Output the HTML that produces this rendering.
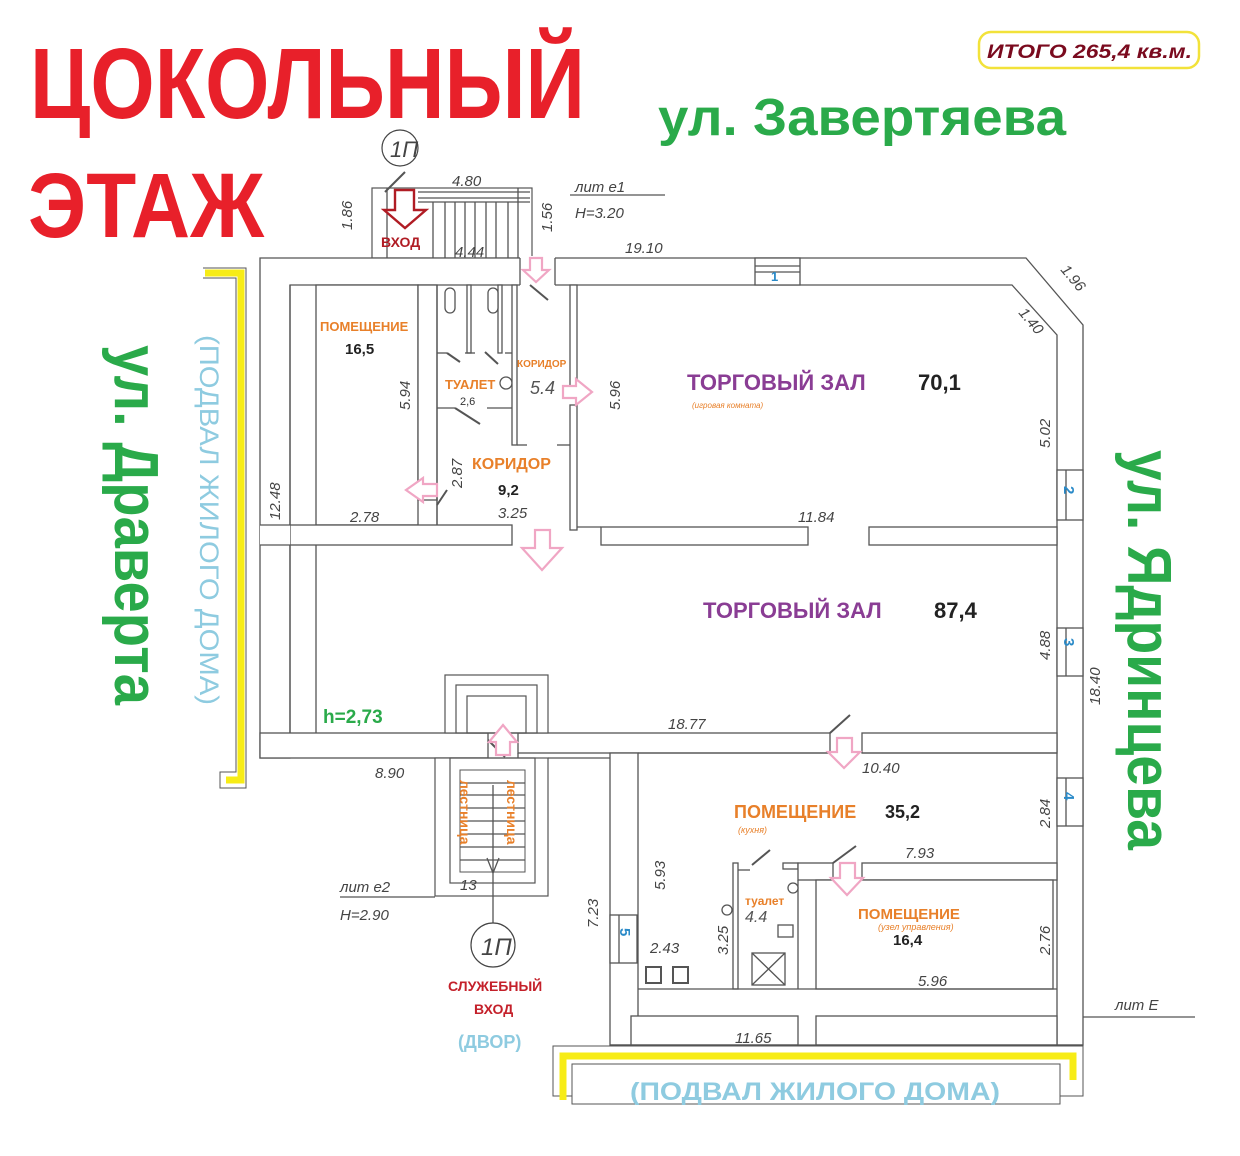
<!DOCTYPE html>
<html><head><meta charset="utf-8"><style>
html,body{margin:0;padding:0;background:#fff;}
svg{display:block;}
text{font-family:"Liberation Sans",sans-serif;}
.d{fill:#444;font-style:italic;font-size:15px;}
.o{fill:#e8802a;font-weight:bold;}
.k{fill:#222;font-weight:bold;}
.p{fill:#8a3d94;font-weight:bold;}
.w{fill:#fff;stroke:#555;stroke-width:1.3;}
.l{stroke:#555;stroke-width:1.3;fill:none;}
.pa{fill:#fff;stroke:#f0a6c4;stroke-width:2.2;}
.door{stroke:#555;stroke-width:2;}
</style></head><body>
<svg width="1240" height="1156" viewBox="0 0 1240 1156" xmlns="http://www.w3.org/2000/svg">
<rect width="1240" height="1156" fill="#fff"/>

<!-- Titles -->
<text x="30" y="118" font-size="100" font-weight="bold" fill="#e8202a" textLength="555" lengthAdjust="spacingAndGlyphs">ЦОКОЛЬНЫЙ</text>
<text x="28" y="237" font-size="92" font-weight="bold" fill="#e8202a" textLength="236" lengthAdjust="spacingAndGlyphs">ЭТАЖ</text>
<text x="658" y="135" font-size="52" font-weight="bold" fill="#2aaa4a" textLength="408" lengthAdjust="spacingAndGlyphs">ул. Завертяева</text>
<rect x="979" y="32" width="220" height="36" rx="12" fill="#fff" stroke="#f2e23a" stroke-width="2.5"/>
<text x="987" y="58" font-size="19" font-weight="bold" font-style="italic" fill="#7a0a1e" textLength="205" lengthAdjust="spacingAndGlyphs">ИТОГО 265,4 кв.м.</text>

<text transform="translate(115,345) rotate(90)" font-size="62" font-weight="bold" fill="#2aaa4a" textLength="360" lengthAdjust="spacingAndGlyphs">ул. Драверта</text>
<text transform="translate(200,335) rotate(90)" font-size="27" fill="#8ecbe0" textLength="370" lengthAdjust="spacingAndGlyphs">(ПОДВАЛ ЖИЛОГО ДОМА)</text>
<text transform="translate(1128,450) rotate(90)" font-size="62" font-weight="bold" fill="#2aaa4a" textLength="400" lengthAdjust="spacingAndGlyphs">ул. Ядринцева</text>

<!-- Yellow brackets -->
<polyline points="203,268 246,268 246,788 220,788 220,772 236,772 236,278 203,278" fill="#fff" stroke="#555" stroke-width="1"/>
<polyline points="205,273 241,273 241,780 226,780" fill="none" stroke="#f7ec16" stroke-width="7"/>
<rect x="553" y="1046" width="530" height="50" fill="#fff" stroke="#555" stroke-width="1"/>
<rect x="572" y="1064" width="488" height="40" fill="#fff" stroke="#555" stroke-width="1"/>
<polyline points="563,1100 563,1056 1073,1056 1073,1080" fill="none" stroke="#f7ec16" stroke-width="7"/>

<!-- Entrance stair top -->
<rect x="372" y="188" width="160" height="70" fill="#fff" stroke="#555" stroke-width="1.2"/>
<line x1="387" y1="188" x2="387" y2="258" class="l"/>
<line x1="418" y1="192" x2="530" y2="192" class="l"/>
<line x1="418" y1="198" x2="530" y2="198" class="l"/>
<line x1="418" y1="202" x2="530" y2="202" class="l"/>
<g class="l"><line x1="433" y1="202" x2="433" y2="258"/><line x1="445" y1="202" x2="445" y2="258"/><line x1="455" y1="202" x2="455" y2="258"/><line x1="465" y1="202" x2="465" y2="258"/><line x1="475" y1="202" x2="475" y2="258"/><line x1="486" y1="202" x2="486" y2="258"/><line x1="496" y1="202" x2="496" y2="258"/><line x1="508" y1="202" x2="508" y2="258"/><line x1="518" y1="188" x2="518" y2="258"/></g>
<line x1="385" y1="192" x2="405" y2="172" class="door"/>
<circle cx="400" cy="148" r="18" fill="#fff" stroke="#444" stroke-width="1.2"/>
<text x="390" y="157" font-size="22" font-style="italic" fill="#444">1П</text>
<polygon points="395,190 414,190 414,210 426,210 405,228 384,210 395,210" fill="#fff" stroke="#b01c24" stroke-width="2.4"/>
<text x="381" y="247" font-size="14" font-weight="bold" fill="#b01c24">ВХОД</text>

<!-- Outer walls -->
<polygon points="260,258 1026,258 1083,325 1083,1045 1057,1045 1057,335 1012,285 290,285 290,758 260,758" class="w"/>
<rect x="520" y="256" width="35" height="32" fill="#fff"/>
<line x1="520" y1="258" x2="520" y2="285" class="l"/><line x1="555" y1="258" x2="555" y2="285" class="l"/>
<line x1="290" y1="285" x2="290" y2="758" class="l"/>
<!-- windows -->
<rect x="755" y="258" width="45" height="27" class="w"/><line x1="755" y1="266" x2="800" y2="266" class="l"/><line x1="755" y1="272" x2="800" y2="272" class="l"/>
<text x="771" y="281" font-size="13" font-weight="bold" fill="#2a8ac8">1</text>
<rect x="1057" y="470" width="26" height="50" class="w"/><line x1="1066" y1="470" x2="1066" y2="520" class="l"/>
<text transform="translate(1064,486) rotate(90)" font-size="15" font-weight="bold" fill="#2a8ac8">2</text>
<rect x="1057" y="628" width="26" height="48" class="w"/><line x1="1066" y1="628" x2="1066" y2="676" class="l"/>
<text transform="translate(1064,638) rotate(90)" font-size="15" font-weight="bold" fill="#2a8ac8">3</text>
<rect x="1057" y="778" width="26" height="48" class="w"/><line x1="1066" y1="778" x2="1066" y2="826" class="l"/>
<text transform="translate(1064,792) rotate(90)" font-size="15" font-weight="bold" fill="#2a8ac8">4</text>

<!-- left room -->
<rect x="316" y="285" width="102" height="240" class="w"/>
<rect x="418" y="285" width="19" height="215" class="w"/>
<!-- toilets -->
<line x1="437" y1="285" x2="437" y2="525" class="l"/>
<rect x="467" y="285" width="4" height="68" class="w"/>
<rect x="498" y="285" width="4" height="68" class="w"/>
<rect x="445" y="288" width="10" height="25" rx="5" class="w"/>
<rect x="488" y="288" width="10" height="25" rx="5" class="w"/>
<line x1="437" y1="353" x2="447" y2="353" class="l"/>
<line x1="465" y1="353" x2="475" y2="353" class="l"/>
<line x1="505" y1="353" x2="517" y2="353" class="l"/>
<line x1="447" y1="353" x2="460" y2="362" class="door"/>
<line x1="485" y1="352" x2="498" y2="364" class="door"/>
<line x1="437" y1="408" x2="455" y2="408" class="l"/>
<line x1="487" y1="408" x2="517" y2="408" class="l"/>
<line x1="455" y1="408" x2="480" y2="424" class="door"/>
<circle cx="506" cy="383" r="6" class="w"/>
<rect x="512" y="285" width="5" height="160" class="w"/>
<line x1="517" y1="445" x2="527" y2="445" class="l"/>
<line x1="557" y1="445" x2="570" y2="445" class="l"/>
<line x1="530" y1="285" x2="548" y2="300" class="door"/>
<rect x="570" y="285" width="7" height="105" class="w"/>
<rect x="570" y="405" width="7" height="125" class="w"/>
<line x1="437" y1="498" x2="437" y2="525" class="l"/>
<line x1="437" y1="505" x2="447" y2="490" class="door"/>

<!-- middle wall -->
<rect x="290" y="525" width="222" height="20" class="w"/>
<rect x="260" y="525" width="30" height="20" fill="#fff"/>
<line x1="260" y1="525" x2="290" y2="525" class="l"/><line x1="260" y1="545" x2="290" y2="545" class="l"/>
<line x1="316" y1="545" x2="316" y2="733" class="l"/>
<rect x="577" y="525" width="0" height="0"/>
<rect x="601" y="527" width="207" height="18" class="w"/>
<rect x="869" y="527" width="188" height="18" class="w"/>
<line x1="577" y1="527" x2="601" y2="527" class="l"/>

<!-- lower wall -->
<rect x="260" y="733" width="228" height="25" class="w"/>
<rect x="518" y="733" width="312" height="20" class="w"/>
<rect x="862" y="733" width="195" height="20" class="w"/>
<line x1="488" y1="740" x2="505" y2="757" class="door"/>
<line x1="830" y1="733" x2="850" y2="715" class="door"/>
<line x1="518" y1="753" x2="518" y2="758" class="l"/>

<!-- upper stair box -->
<rect x="445" y="675" width="103" height="58" fill="#fff" stroke="#555" stroke-width="1.2"/>
<rect x="456" y="685" width="81" height="48" fill="none" stroke="#555" stroke-width="1.2"/>
<rect x="467" y="696" width="59" height="37" fill="none" stroke="#555" stroke-width="1.2"/>
<!-- lower stair -->
<rect x="435" y="758" width="113" height="138" fill="#fff" stroke="#555" stroke-width="1.2"/>
<rect x="450" y="758" width="85" height="125" fill="none" stroke="#555" stroke-width="1.2"/>
<rect x="460" y="770" width="65" height="102" fill="none" stroke="#555" stroke-width="1"/>
<g class="l"><line x1="460" y1="783" x2="525" y2="783"/><line x1="460" y1="795" x2="525" y2="795"/><line x1="460" y1="808" x2="525" y2="808"/><line x1="460" y1="821" x2="525" y2="821"/><line x1="460" y1="834" x2="525" y2="834"/><line x1="460" y1="847" x2="525" y2="847"/><line x1="460" y1="860" x2="525" y2="860"/><line x1="493" y1="785" x2="493" y2="935"/><line x1="487" y1="858" x2="493" y2="873"/><line x1="499" y1="858" x2="493" y2="873"/></g>
<text transform="translate(460,780) rotate(90)" font-size="14" class="o">лестница</text>
<text transform="translate(507,780) rotate(90)" font-size="14" class="o">лестница</text>
<text x="460" y="890" class="d" font-size="17">13</text>
<circle cx="493" cy="945" r="22" fill="#fff" stroke="#444" stroke-width="1.2"/>
<text x="481" y="955" font-size="24" font-style="italic" fill="#444">1П</text>
<line x1="340" y1="897" x2="435" y2="897" class="l"/>
<text x="340" y="892" class="d" font-size="22">лит е2</text>
<text x="340" y="920" class="d" font-size="22">Н=2.90</text>

<!-- lower section -->
<polygon points="548,758 610,758 610,1045 548,1045" fill="none"/>
<rect x="610" y="753" width="28" height="292" class="w"/>
<line x1="548" y1="758" x2="610" y2="758" class="l"/>
<rect x="610" y="915" width="27" height="48" class="w"/><line x1="619" y1="915" x2="619" y2="963" class="l"/>
<text transform="translate(620,928) rotate(90)" font-size="15" font-weight="bold" fill="#2a8ac8">5</text>
<rect x="638" y="753" width="415" height="0" class="l"/>
<line x1="638" y1="753" x2="830" y2="753" class="l"/><line x1="862" y1="753" x2="1057" y2="753" class="l"/>
<rect x="733" y="863" width="5" height="126" class="w"/>
<line x1="738" y1="870" x2="750" y2="870" class="l"/>
<line x1="752" y1="865" x2="770" y2="850" class="door"/>
<rect x="783" y="863" width="15" height="6" class="w"/>
<rect x="798" y="863" width="35" height="17" class="w"/>
<rect x="862" y="863" width="195" height="17" class="w"/>
<line x1="833" y1="863" x2="856" y2="846" class="door"/>
<line x1="798" y1="880" x2="798" y2="989" class="l"/>
<rect x="816" y="880" width="237" height="109" class="w"/>
<circle cx="727" cy="910" r="5" class="w"/>
<circle cx="793" cy="888" r="5" class="w"/>
<rect x="778" y="925" width="15" height="12" class="w"/>
<rect x="752" y="953" width="33" height="32" class="w"/><line x1="752" y1="953" x2="785" y2="985" class="l"/><line x1="785" y1="953" x2="752" y2="985" class="l"/>
<rect x="646" y="967" width="15" height="16" fill="none" stroke="#555" stroke-width="2"/>
<rect x="673" y="967" width="15" height="16" fill="none" stroke="#555" stroke-width="2"/>
<line x1="638" y1="989" x2="1057" y2="989" class="l"/>
<rect x="631" y="1016" width="167" height="29" class="w"/>
<rect x="816" y="1016" width="241" height="29" class="w"/>
<line x1="610" y1="1045" x2="1083" y2="1045" class="l"/>
<line x1="1083" y1="1017" x2="1195" y2="1017" class="l"/>
<text x="1115" y="1010" class="d" font-size="22">лит Е</text>

<!-- lit e1 -->
<line x1="570" y1="195" x2="665" y2="195" class="l"/>
<text x="575" y="192" class="d" font-size="22">лит е1</text>
<text x="575" y="218" class="d" font-size="22">Н=3.20</text>

<!-- dimensions -->
<text x="452" y="186" class="d">4.80</text>
<text x="625" y="253" class="d">19.10</text>
<text x="455" y="257" class="d" font-size="12">4.44</text>
<text transform="translate(352,230) rotate(-90)" class="d">1.86</text>
<text transform="translate(552,232) rotate(-90)" class="d">1.56</text>
<text transform="translate(1060,270) rotate(50)" class="d">1.96</text>
<text transform="translate(1018,313) rotate(50)" class="d">1.40</text>
<text transform="translate(1050,448) rotate(-90)" class="d">5.02</text>
<text transform="translate(620,410) rotate(-90)" class="d">5.96</text>
<text transform="translate(410,410) rotate(-90)" class="d">5.94</text>
<text transform="translate(462,488) rotate(-90)" class="d">2.87</text>
<text x="350" y="522" class="d">2.78</text>
<text x="498" y="518" class="d">3.25</text>
<text x="798" y="522" class="d">11.84</text>
<text transform="translate(280,520) rotate(-90)" class="d" font-size="12">12.48</text>
<text transform="translate(1050,660) rotate(-90)" class="d">4.88</text>
<text transform="translate(1100,705) rotate(-90)" class="d">18.40</text>
<text x="668" y="729" class="d">18.77</text>
<text x="862" y="773" class="d">10.40</text>
<text transform="translate(1050,828) rotate(-90)" class="d">2.84</text>
<text x="905" y="858" class="d">7.93</text>
<text transform="translate(665,890) rotate(-90)" class="d">5.93</text>
<text transform="translate(598,928) rotate(-90)" class="d" font-size="12">7.23</text>
<text transform="translate(728,955) rotate(-90)" class="d">3.25</text>
<text x="650" y="953" class="d">2.43</text>
<text transform="translate(1050,955) rotate(-90)" class="d">2.76</text>
<text x="918" y="986" class="d">5.96</text>
<text x="735" y="1043" class="d" font-size="12">11.65</text>
<text x="375" y="778" class="d" font-size="12">8.90</text>

<!-- pink arrows -->
<polygon points="530,258 542,258 542,270 549,270 536,282 523,270 530,270" class="pa"/>
<polygon points="563,386 576,386 576,379 592,392 576,405 576,398 563,398" class="pa"/>
<polygon points="437,484 423,484 423,478 406,490 423,502 423,496 437,496" class="pa"/>
<polygon points="535,530 550,530 550,548 562,548 542,570 522,548 535,548" class="pa"/>
<polygon points="496,755 510,755 510,742 517,742 503,725 489,742 496,742" class="pa"/>
<polygon points="837,738 852,738 852,752 860,752 844,768 828,752 837,752" class="pa"/>
<polygon points="840,863 855,863 855,878 863,878 847,895 831,878 840,878" class="pa"/>

<!-- room labels -->
<text x="320" y="331" font-size="13" class="o">ПОМЕЩЕНИЕ</text>
<text x="345" y="354" font-size="15" class="k">16,5</text>
<text x="445" y="389" font-size="13" class="o">ТУАЛЕТ</text>
<text x="460" y="405" font-size="11" fill="#333">2,6</text>
<text x="517" y="367" font-size="10" class="o">КОРИДОР</text>
<text x="530" y="394" font-size="18" font-style="italic" fill="#555">5.4</text>
<text x="472" y="469" font-size="16" class="o">КОРИДОР</text>
<text x="498" y="495" font-size="15" class="k">9,2</text>
<text x="687" y="390" font-size="22" class="p">ТОРГОВЫЙ ЗАЛ</text>
<text x="918" y="390" font-size="22" class="k">70,1</text>
<text x="692" y="408" font-size="8" font-style="italic" fill="#e8802a">(игровая комната)</text>
<text x="703" y="618" font-size="22" class="p">ТОРГОВЫЙ ЗАЛ</text>
<text x="934" y="618" font-size="22" class="k">87,4</text>
<text x="323" y="723" font-size="19" font-weight="bold" fill="#2aaa4a">h=2,73</text>
<text x="734" y="818" font-size="18" class="o">ПОМЕЩЕНИЕ</text>
<text x="885" y="818" font-size="18" class="k">35,2</text>
<text x="738" y="833" font-size="9" font-style="italic" fill="#e8802a">(кухня)</text>
<text x="745" y="905" font-size="12" class="o">туалет</text>
<text x="745" y="922" font-size="16" font-style="italic" fill="#555">4.4</text>
<text x="858" y="919" font-size="15" class="o">ПОМЕЩЕНИЕ</text>
<text x="878" y="930" font-size="9" font-style="italic" fill="#e8802a">(узел управления)</text>
<text x="893" y="945" font-size="15" class="k">16,4</text>
<text x="448" y="991" font-size="14" font-weight="bold" fill="#c4202a">СЛУЖЕБНЫЙ</text>
<text x="474" y="1014" font-size="14" font-weight="bold" fill="#c4202a">ВХОД</text>
<text x="458" y="1048" font-size="18" font-weight="bold" fill="#8ecbe0">(ДВОР)</text>
<text x="630" y="1100" font-size="25" font-weight="bold" fill="#8ecbe0" textLength="370" lengthAdjust="spacingAndGlyphs">(ПОДВАЛ ЖИЛОГО ДОМА)</text>
</svg>
</body></html>
